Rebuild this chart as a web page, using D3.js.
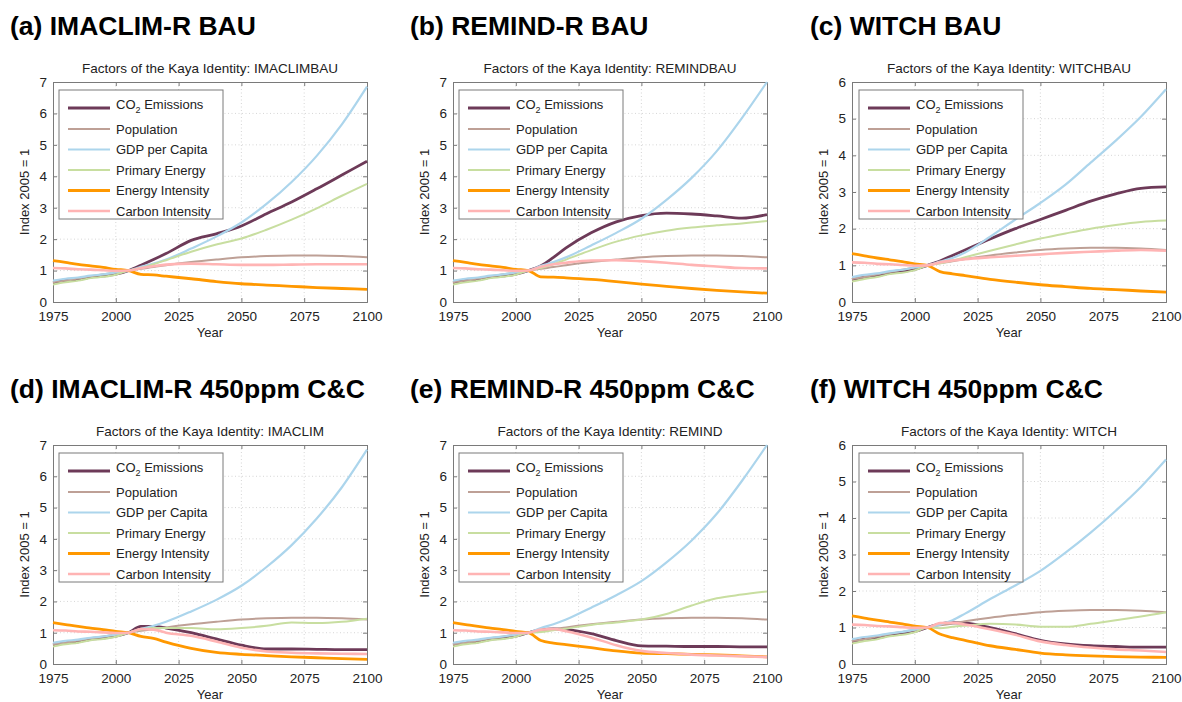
<!DOCTYPE html>
<html>
<head>
<meta charset="utf-8">
<script src="https://cdn.jsdelivr.net/npm/d3@7"></script>
<style>
  body { margin: 0; background: #fff; }
  svg { font-family: "Liberation Sans", Arial, sans-serif; }
</style>
</head>
<body>
<svg id="chart" width="1182" height="702"></svg>
<script>
// years: history is the same in every panel, scenarios split after 2005
const histYears = [1975, 1980, 1985, 1990, 1995, 2000, 2005]
const futureYears = [2010, 2015, 2020, 2030, 2040, 2050, 2060, 2070, 2080, 2090, 2100]
const xTicks = [1975, 2000, 2025, 2050, 2075, 2100]

const seriesKeys = ['co2', 'pop', 'gdp', 'pe', 'ei', 'ci']
const seriesNames = ['CO2 Emissions', 'Population', 'GDP per Capita', 'Primary Energy', 'Energy Intensity', 'Carbon Intensity']

const histCo2 = [0.61, 0.68, 0.71, 0.79, 0.83, 0.89, 1]
const histPop = [0.63, 0.68, 0.75, 0.82, 0.88, 0.94, 1]
const histGdp = [0.68, 0.74, 0.78, 0.84, 0.88, 0.94, 1]
const histPe = [0.56, 0.63, 0.68, 0.76, 0.80, 0.87, 1]
const histEi = [1.32, 1.26, 1.20, 1.15, 1.10, 1.04, 1]
const histCi = [1.08, 1.07, 1.04, 1.03, 1.01, 0.99, 1]

const popFuture = [1.06, 1.11, 1.17, 1.27, 1.35, 1.42, 1.46, 1.48, 1.48, 1.46, 1.42]

const imaclimBau = {
  co2: [1.17, 1.35, 1.54, 1.96, 2.17, 2.42, 2.81, 3.18, 3.6, 4.04, 4.48],
  pop: popFuture,
  gdp: [1.12, 1.22, 1.35, 1.7, 2.08, 2.53, 3.12, 3.82, 4.65, 5.65, 6.85],
  pe: [1.08, 1.2, 1.33, 1.6, 1.83, 2.02, 2.3, 2.62, 2.98, 3.38, 3.76],
  ei: [0.88, 0.86, 0.82, 0.74, 0.65, 0.58, 0.54, 0.5, 0.46, 0.43, 0.4],
  ci: [1.08, 1.14, 1.19, 1.22, 1.2, 1.18, 1.18, 1.19, 1.2, 1.2, 1.2],
}
const remindBau = {
  co2: [1.15, 1.42, 1.72, 2.2, 2.55, 2.75, 2.83, 2.8, 2.74, 2.67, 2.78],
  pop: popFuture,
  gdp: [1.15, 1.27, 1.42, 1.8, 2.2, 2.65, 3.25, 3.95, 4.8, 5.85, 7.0],
  pe: [1.08, 1.2, 1.35, 1.65, 1.92, 2.12, 2.27, 2.37, 2.44, 2.5, 2.58],
  ei: [0.8, 0.79, 0.77, 0.72, 0.65, 0.57, 0.5, 0.43, 0.37, 0.32, 0.28],
  ci: [1.12, 1.2, 1.25, 1.32, 1.33, 1.3, 1.25, 1.18, 1.13, 1.08, 1.07],
}
const witchBau = {
  co2: [1.12, 1.27, 1.42, 1.72, 2.0, 2.25, 2.5, 2.75, 2.95, 3.1, 3.14],
  pop: popFuture,
  gdp: [1.1, 1.2, 1.35, 1.78, 2.25, 2.7, 3.2, 3.8, 4.4, 5.05, 5.8],
  pe: [1.05, 1.13, 1.22, 1.4, 1.57, 1.73, 1.87, 2.0, 2.1, 2.18, 2.22],
  ei: [0.83, 0.77, 0.72, 0.62, 0.54, 0.47, 0.42, 0.37, 0.34, 0.3, 0.27],
  ci: [1.08, 1.13, 1.17, 1.22, 1.26, 1.3, 1.34, 1.37, 1.4, 1.42, 1.4],
}
const imaclim450 = {
  co2: [1.2, 1.2, 1.15, 1.0, 0.8, 0.6, 0.48, 0.48, 0.47, 0.46, 0.46],
  pop: popFuture,
  gdp: [1.12, 1.22, 1.35, 1.68, 2.05, 2.5, 3.1, 3.8, 4.65, 5.65, 6.85],
  pe: [1.1, 1.15, 1.15, 1.15, 1.11, 1.15, 1.22, 1.33, 1.31, 1.35, 1.45],
  ei: [0.88, 0.82, 0.7, 0.5, 0.37, 0.31, 0.27, 0.23, 0.2, 0.17, 0.15],
  ci: [1.12, 1.1, 1.0, 0.9, 0.72, 0.52, 0.4, 0.36, 0.34, 0.33, 0.32],
}
const remind450 = {
  co2: [1.1, 1.12, 1.1, 0.97, 0.75, 0.58, 0.57, 0.56, 0.56, 0.55, 0.55],
  pop: popFuture,
  gdp: [1.15, 1.27, 1.42, 1.8, 2.2, 2.65, 3.25, 3.95, 4.8, 5.85, 7.0],
  pe: [1.02, 1.08, 1.13, 1.25, 1.33, 1.42, 1.6, 1.87, 2.1, 2.22, 2.32],
  ei: [0.75, 0.67, 0.62, 0.52, 0.42, 0.35, 0.33, 0.31, 0.29, 0.26, 0.23],
  ci: [1.1, 1.12, 1.05, 0.85, 0.6, 0.42, 0.35, 0.3, 0.27, 0.25, 0.22],
}
const witch450 = {
  co2: [1.1, 1.13, 1.12, 1.0, 0.83, 0.65, 0.55, 0.5, 0.48, 0.46, 0.46],
  pop: popFuture,
  gdp: [1.08, 1.2, 1.38, 1.78, 2.15, 2.55, 3.05, 3.6, 4.2, 4.85, 5.6],
  pe: [0.98, 1.02, 1.05, 1.1, 1.08, 1.02, 1.02, 1.1, 1.2, 1.3, 1.42],
  ei: [0.82, 0.72, 0.65, 0.5, 0.4, 0.3, 0.25, 0.22, 0.2, 0.19, 0.18],
  ci: [1.12, 1.13, 1.08, 0.95, 0.8, 0.62, 0.52, 0.45, 0.4, 0.37, 0.33],
}

const panelTitles = ['(a) IMACLIM-R BAU', '(b) REMIND-R BAU', '(c) WITCH BAU',
  '(d) IMACLIM-R 450ppm C&C', '(e) REMIND-R 450ppm C&C', '(f) WITCH 450ppm C&C']
const panelSubtitles = ['IMACLIMBAU', 'REMINDBAU', 'WITCHBAU', 'IMACLIM', 'REMIND', 'WITCH']
const panelMax = [7, 7, 6, 7, 7, 6]
const panelData = [imaclimBau, remindBau, witchBau, imaclim450, remind450, witch450]

const history = { co2: histCo2, pop: histPop, gdp: histGdp, pe: histPe, ei: histEi, ci: histCi }

// styling
const colors = { co2: '#6d3a58', pop: '#bea096', gdp: '#acd5ec', pe: '#c8dea0', ei: '#ff9800', ci: '#ffb4b4' }
const widths = { co2: 2.8, pop: 2, gdp: 2.2, pe: 2, ei: 2.8, ci: 2.6 }

const colLeft = [53, 453, 852]
const rowTop = [82, 445]
const plotW = 314
const plotH = [220, 219]

const svg = d3.select('#chart')

function drawPanel(i) {
  const col = i % 3
  const row = Math.floor(i / 3)
  const w = plotW
  const h = plotH[row]
  const ox = colLeft[col]
  const oy = rowTop[row]

  // big panel title
  svg.append('text')
    .attr('x', col === 0 ? 10 : col === 1 ? 410 : 810)
    .attr('y', row === 0 ? 35 : 398)
    .attr('font-size', 26.5)
    .attr('font-weight', 'bold')
    .attr('fill', '#000')
    .text(panelTitles[i])

  const g = svg.append('g').attr('transform', `translate(${ox},${oy})`)

  const x = d3.scaleLinear().domain([1975, 2100]).range([0, w])
  const y = d3.scaleLinear().domain([0, panelMax[i]]).range([h, 0])
  const yTicks = d3.range(0, panelMax[i] + 1)

  g.append('text')
    .attr('x', w / 2)
    .attr('y', -9)
    .attr('text-anchor', 'middle')
    .attr('font-size', 13.5)
    .attr('fill', '#222')
    .text('Factors of the Kaya Identity: ' + panelSubtitles[i])

  // dotted grid
  const grid = g.append('g')
    .attr('stroke', '#cccccc')
    .attr('stroke-width', 0.8)
    .attr('stroke-dasharray', '1,2.5')
  grid.selectAll('line.v').data(xTicks.slice(1, -1)).enter().append('line')
    .attr('x1', d => x(d)).attr('x2', d => x(d))
    .attr('y1', 0).attr('y2', h)
  grid.selectAll('line.h').data(yTicks.slice(1, -1)).enter().append('line')
    .attr('x1', 0).attr('x2', w)
    .attr('y1', d => y(d)).attr('y2', d => y(d))

  // axes, ticks inward like matlab
  const xAxis = g.append('g')
    .attr('transform', `translate(0,${h})`)
    .call(d3.axisBottom(x).tickValues(xTicks).tickSize(-4).tickPadding(6).tickFormat(d3.format('d')))
  g.append('g')
    .call(d3.axisLeft(y).tickValues(yTicks).tickSize(-4).tickPadding(6).tickFormat(d3.format('d')))
  g.append('g').call(d3.axisTop(x).tickValues(xTicks).tickSize(-4).tickFormat(''))
  g.append('g').attr('transform', `translate(${w},0)`)
    .call(d3.axisRight(y).tickValues(yTicks).tickSize(-4).tickFormat(''))

  g.selectAll('.domain').attr('stroke', '#7a7a7a')
  g.selectAll('.tick line').attr('stroke', '#7a7a7a')
  g.selectAll('.tick text').attr('fill', '#222').attr('font-size', 13.5)
    .attr('font-family', '"Liberation Sans", Arial, sans-serif')
  xAxis.selectAll('.tick text').attr('dy', '0.95em')

  g.append('text')
    .attr('x', w / 2).attr('y', h + 35)
    .attr('text-anchor', 'middle')
    .attr('font-size', 13)
    .attr('fill', '#222')
    .text('Year')

  g.append('text')
    .attr('transform', `translate(-24,${h / 2}) rotate(-90)`)
    .attr('text-anchor', 'middle')
    .attr('font-size', 13)
    .attr('fill', '#222')
    .text('Index 2005 = 1')

  // lines
  const years = histYears.concat(futureYears)
  const line = d3.line()
    .x(d => x(d.year))
    .y(d => y(d.value))
    .curve(d3.curveMonotoneX)

  seriesKeys.forEach(k => {
    const vals = history[k].concat(panelData[i][k])
    const pts = years.map((yr, j) => ({ year: yr, value: vals[j] }))
    g.append('path')
      .datum(pts)
      .attr('d', line)
      .attr('fill', 'none')
      .attr('stroke', colors[k])
      .attr('stroke-width', widths[k])
      .attr('stroke-linejoin', 'round')
  })

  // legend box top-left
  const leg = g.append('g').attr('transform', `translate(${col === 2 ? 7 : 6},8)`)
  leg.append('rect')
    .attr('width', 164).attr('height', 129)
    .attr('fill', '#fff')
    .attr('stroke', '#7a7a7a')
    .attr('stroke-width', 1)

  const rowY = [18, 39, 59.5, 80, 100.5, 121]
  seriesKeys.forEach((k, j) => {
    leg.append('line')
      .attr('x1', 9).attr('x2', 51)
      .attr('y1', rowY[j]).attr('y2', rowY[j])
      .attr('stroke', colors[k])
      .attr('stroke-width', widths[k])
    const t = leg.append('text')
      .attr('x', 57)
      .attr('y', j === 0 ? rowY[j] + 0.5 : rowY[j] + 4.6)
      .attr('font-size', 13)
      .attr('fill', '#222')
    if (k === 'co2') {
      t.append('tspan').text('CO')
      t.append('tspan').attr('font-size', 9).attr('dy', 4).text('2')
      t.append('tspan').attr('dy', -4).text(' Emissions')
    } else {
      t.text(seriesNames[j])
    }
  })
}

d3.range(6).forEach(drawPanel)
</script>
</body>
</html>
